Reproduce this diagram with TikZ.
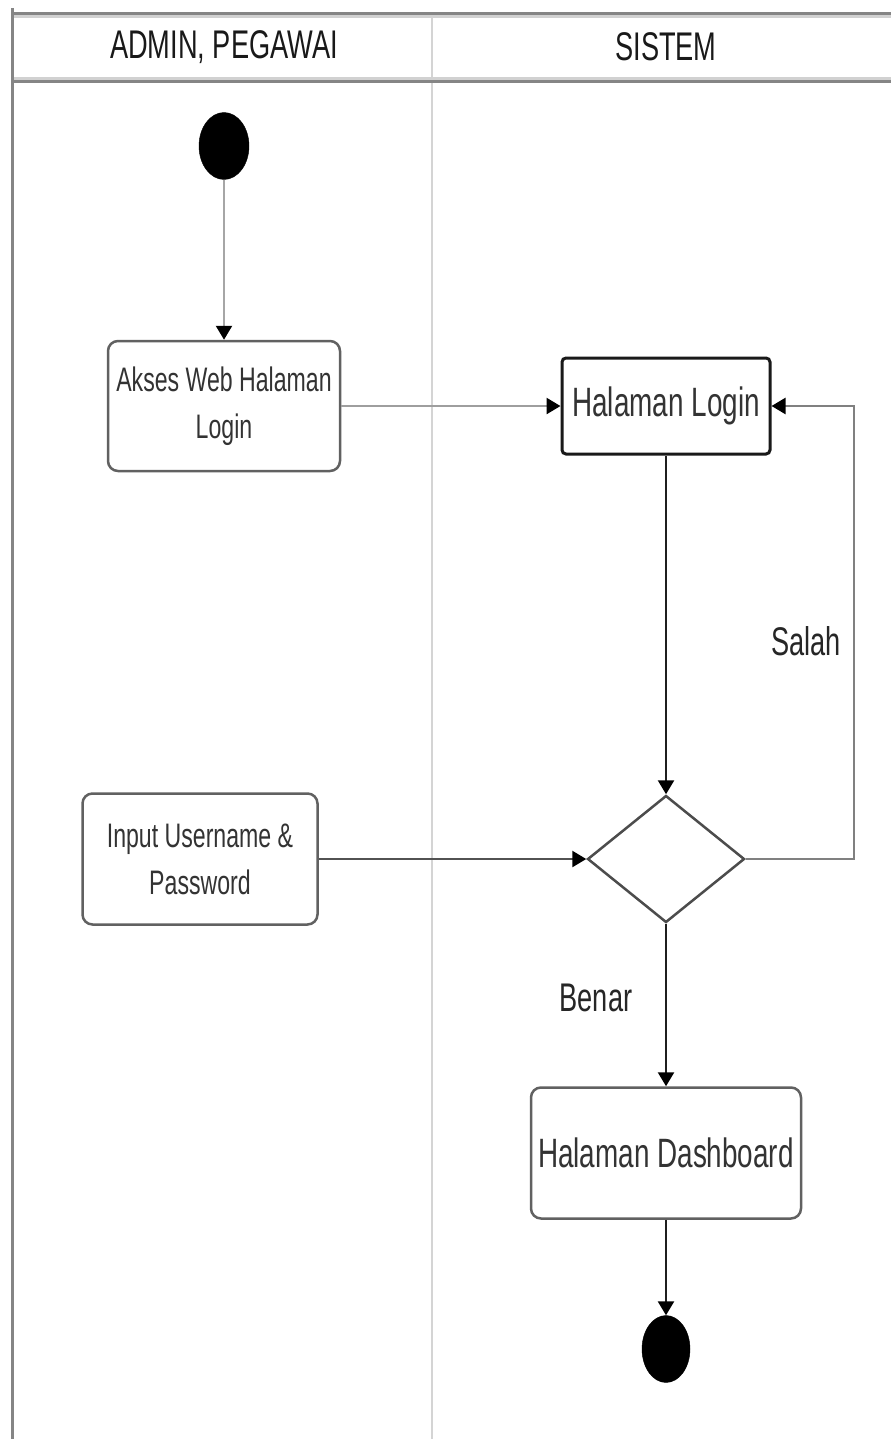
\documentclass[tikz,border=0pt]{standalone}
\usepackage{fontspec}
\setmainfont{Liberation Sans}[FakeStretch=0.68]
\usetikzlibrary{arrows.meta,shapes.geometric}

\begin{document}
\begin{tikzpicture}[x=1pt,y=-1pt,
  darkrule/.style={line width=3pt,draw=black!48},
  lightrule/.style={line width=3pt,draw=black!18},
  lanediv/.style={line width=2pt,draw=black!17},
  lanetitle/.style={font=\fontsize{40}{48}\selectfont,text=black!90,inner sep=0pt},
  actionbox/.style={draw=black!62,line width=2.5pt,rounded corners=10pt,fill=white,
    align=center,inner sep=0pt,text=black!80,font=\fontsize{34}{47}\selectfont},
  screenbox/.style={draw=black!90,line width=3pt,rounded corners=4pt,fill=white,
    align=center,inner sep=0pt,text=black!80,font=\fontsize{41}{49}\selectfont},
  pagebox/.style={draw=black!62,line width=2.5pt,rounded corners=10pt,fill=white,
    align=center,inner sep=0pt,text=black!80,font=\fontsize{41}{49}\selectfont},
  choice/.style={diamond,draw=black!70,line width=2.5pt,fill=white,inner sep=0pt,
    minimum width=157pt,minimum height=127pt},
  terminal/.style={ellipse,fill=black,draw=black,inner sep=0pt,
    minimum width=50pt,minimum height=67pt},
  flow/.style={draw=#1,line width=2.5pt,-{Triangle[length=14pt,width=16pt,color=black]}},
  flow/.default=black!88,
  guard/.style={font=\fontsize{40}{48}\selectfont,text=black!85,inner sep=0pt}
]
\fill[white] (0,0) rectangle (891,1439);
\useasboundingbox (0,0) rectangle (891,1439);

% swimlane frame
\draw[lanediv] (432,14) -- (432,1439);
\draw[lightrule] (12,17) -- (891,17);
\draw[darkrule] (12,14) -- (891,14);
\draw[lightrule] (12,79) -- (891,79);
\draw[darkrule] (12,82) -- (891,82);
\draw[darkrule] (12,8) -- (12,1439);

\node[lanetitle] (laneA) at (224,47) {ADMIN, PEGAWAI};
\node[lanetitle] (laneB) at (666,47) {SISTEM};

% activities
\node[terminal] (start) at (224,146) {};
\node[actionbox,minimum width=232pt,minimum height=130pt] (akses) at (224,406)
  {Akses Web Halaman\\Login};
\node[screenbox,minimum width=208pt,minimum height=96pt] (login) at (666,406)
  {Halaman Login};
\node[choice] (dec) at (666,859) {};
\node[actionbox,minimum width=235pt,minimum height=131pt] (input) at (200,859)
  {Input Username \&\\Password};
\node[pagebox,minimum width=270pt,minimum height=131pt] (dash) at (666,1153)
  {Halaman Dashboard};
\node[terminal,minimum width=48pt] (stop) at (666,1349) {};
\coordinate (loop) at (854,859);

% flows
\draw[flow=black!35] (start) -- (akses);
\draw[flow=black!38] (akses) -- (login);
\draw[flow] (login) -- (dec);
\draw[flow=black!68] (input) -- (dec);
\draw[flow=black!50] (dec.east) -- (loop) |- (login.east);
\draw[flow] (dec) -- (dash);
\draw[flow] (dash) -- (stop);

\node[guard] (salah) at (806,641) {Salah};
\node[guard] (benar) at (596,998) {Benar};
\end{tikzpicture}
\end{document}
